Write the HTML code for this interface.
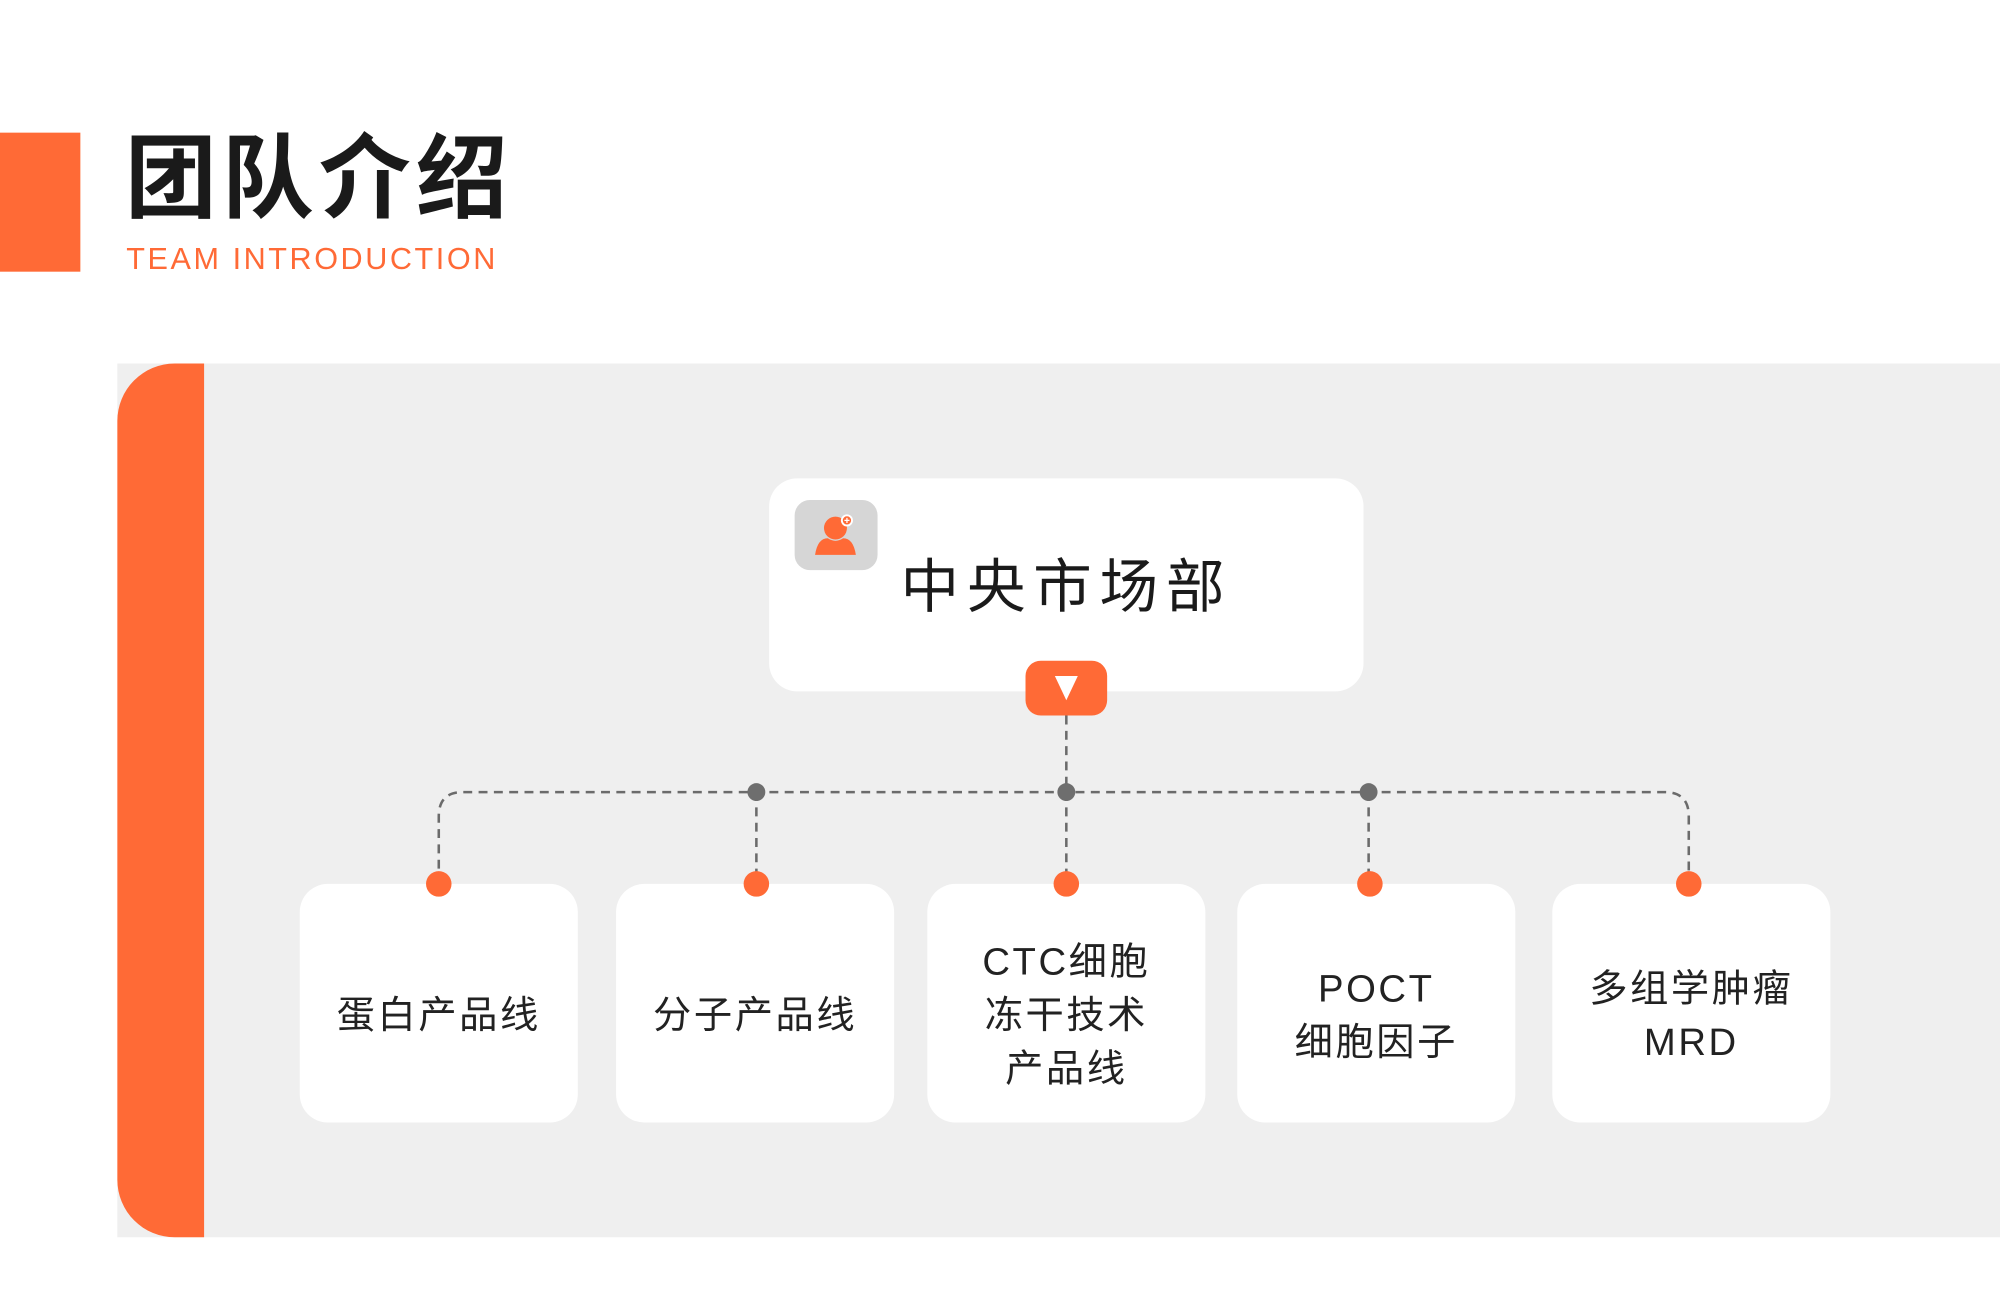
<!DOCTYPE html>
<html><head><meta charset="utf-8"><style>
html,body{margin:0;padding:0;background:#fff;width:2000px;height:1310px;overflow:hidden}
#w{position:absolute;left:0;top:0;width:1568px;height:1027px;transform:scale(1.27551);transform-origin:0 0;font-family:"Liberation Sans","Noto Sans CJK SC",sans-serif}
.a{position:absolute}
.box{position:absolute;background:#fff;border-radius:22px;display:flex;align-items:center;justify-content:center;text-align:center;font-size:30px;line-height:42px;color:#222;letter-spacing:2px;box-sizing:border-box;padding-top:20px}
</style></head><body><div id="w">
<div class="a" style="left:0;top:104px;width:63px;height:109px;background:#ff6a36"></div>
<div class="a" style="left:98px;top:96px;font-size:72px;font-weight:bold;color:#1a1a1a;letter-spacing:4px;line-height:90px">团队介绍</div>
<div class="a" style="left:99px;top:189px;font-size:24px;color:#ff6a36;letter-spacing:2px;line-height:30px">TEAM INTRODUCTION</div>
<div class="a" style="left:92px;top:285px;width:1476px;height:685px;background:#efefef"></div>
<div class="a" style="left:92px;top:285px;width:68px;height:685px;background:#ff6a36;border-radius:45px 0 0 45px"></div>
<div class="a" style="left:603px;top:375px;width:466px;height:167px;background:#fff;border-radius:22px"></div>
<div class="a" style="left:623px;top:392px;width:65px;height:55px;background:#d6d6d6;border-radius:12px"></div>
<svg class="a" style="left:623px;top:392px" width="65" height="55"><circle cx="32" cy="22" r="9" fill="#ff6a36"/><path d="M16 43 Q18 30 26 30 Q32 34 38 30 Q46 30 48 43 Z" fill="#ff6a36"/><circle cx="41" cy="16" r="4" fill="#ff6a36" stroke="#fff" stroke-width="1.5"/><path d="M39 16h4M41 14v4" stroke="#fff" stroke-width="1"/></svg>
<div class="a" style="left:603px;top:430px;width:466px;text-align:center;font-size:46px;line-height:60px;color:#1a1a1a;letter-spacing:6px">中央市场部</div>
<div class="box" style="left:235px;top:693px;width:218px;height:187px">蛋白产品线</div>
<div class="box" style="left:483px;top:693px;width:218px;height:187px">分子产品线</div>
<div class="box" style="left:727px;top:693px;width:218px;height:187px">CTC细胞<br>冻干技术<br>产品线</div>
<div class="box" style="left:970px;top:693px;width:218px;height:187px">POCT<br>细胞因子</div>
<div class="box" style="left:1217px;top:693px;width:218px;height:187px">多组学肿瘤<br>MRD</div>
<svg class="a" style="left:0;top:0" width="1568" height="1027">
<path d="M836 561V693M344 693V640Q344 621 363 621H1305Q1324 621 1324 640V693M593 621V693M1073 621V693" stroke="#6b6b6b" stroke-width="2" stroke-dasharray="7 5" fill="none"/>
<g fill="#6e6e6e"><circle cx="593" cy="621" r="7"/><circle cx="836" cy="621" r="7"/><circle cx="1073" cy="621" r="7"/></g>
<g fill="#ff6a36"><circle cx="344" cy="693" r="10"/><circle cx="593" cy="693" r="10"/><circle cx="836" cy="693" r="10"/><circle cx="1074" cy="693" r="10"/><circle cx="1324" cy="693" r="10"/></g>
</svg>
<div class="a" style="left:804px;top:518px;width:64px;height:43px;background:#ff6a36;border-radius:12px"></div>
<svg class="a" style="left:804px;top:518px" width="64" height="43"><path d="M23 12H41L32 31Z" fill="#fff"/></svg>
</div></body></html>
